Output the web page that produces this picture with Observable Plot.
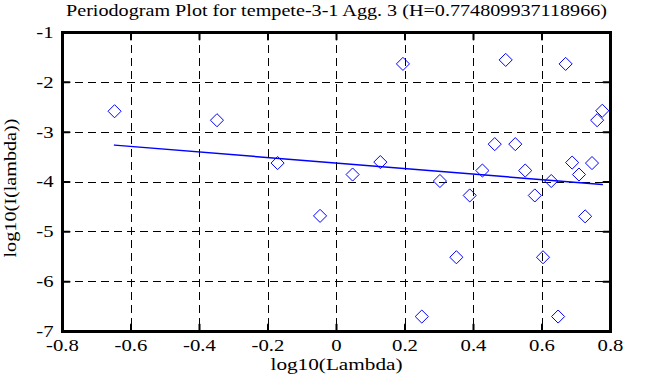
<!DOCTYPE html>
<html><head><meta charset="utf-8">
<script src="https://cdn.jsdelivr.net/npm/d3@7"></script>
<script src="https://cdn.jsdelivr.net/npm/@observablehq/plot@0.6"></script>
<style>html,body{margin:0;padding:0;background:#fff} svg{display:block}</style>
</head><body><div id="chart"></div>
<script>
const title = "Periodogram Plot for tempete-3-1 Agg. 3 (H=0.774809937118966)";
const xLabel = "log10(Lambda)";
const yLabel = "log10(I(lambda))";

// periodogram points: log10(lambda), log10(I(lambda))
const logLambda = [-0.648, -0.349, -0.172, -0.048, 0.047, 0.128, 0.194, 0.249, 0.302, 0.350, 0.389, 0.426, 0.462, 0.494,
                   0.522, 0.551, 0.579, 0.603, 0.627, 0.647, 0.669, 0.688, 0.708, 0.726, 0.746, 0.761, 0.776];
const logI      = [-2.58, -2.76, -3.62, -4.68, -3.85, -3.60, -1.63, -6.70, -3.98, -5.51, -4.27, -3.77, -3.24, -1.55,
                   -3.24, -3.77, -4.27, -5.51, -3.98, -6.70, -1.63, -3.61, -3.85, -4.69, -3.62, -2.76, -2.57];

// fitted regression line endpoints
const fitLogLambda = [-0.648, 0.776];
const fitLogI = [-3.26, -4.05];

const xTicks = [-0.8, -0.6, -0.4, -0.2, 0, 0.2, 0.4, 0.6, 0.8];
const xTickLabels = ["-0.8", "-0.6", "-0.4", "-0.2", "0", "0.2", "0.4", "0.6", "0.8"];
const yTicks = [-1, -2, -3, -4, -5, -6, -7];
const yTickLabels = ["-1", "-2", "-3", "-4", "-5", "-6", "-7"];

const points = logLambda.map((x, i) => ({x, y: logI[i]}));
const fit = fitLogLambda.map((x, i) => ({x, y: fitLogI[i]}));
const innerX = xTicks.slice(1, -1);
const innerY = yTicks.slice(1, -1);
const tickShape = {draw(ctx, l) { ctx.moveTo(0, 0); ctx.lineTo(0, -l); }};
const xDom = [xTicks[0], xTicks[xTicks.length - 1]];
const yDom = [yTicks[yTicks.length - 1], yTicks[0]];

const chart = Plot.plot({
  width: 648,
  height: 387,
  marginLeft: 62,
  marginRight: 38,
  marginTop: 32,
  marginBottom: 56,
  style: {fontFamily: "'Liberation Serif', 'Times New Roman', serif", fontSize: "17px", background: "#fff", color: "#000"},
  x: {domain: xDom, axis: null},
  y: {domain: yDom, axis: null},
  marks: [
    Plot.ruleX(innerX, {x: d => d, stroke: "#000", strokeWidth: 1, strokeDasharray: "8,5", shapeRendering: "crispEdges"}),
    Plot.ruleY(innerY, {y: d => d, stroke: "#000", strokeWidth: 1, strokeDasharray: "8,5", shapeRendering: "crispEdges"}),
    Plot.vector(innerX, {x: d => d, y: yDom[0], length: 7, rotate: 0, anchor: "start", shape: tickShape, stroke: "#000", strokeWidth: 2}),
    Plot.vector(innerX, {x: d => d, y: yDom[1], length: 7, rotate: 180, anchor: "start", shape: tickShape, stroke: "#000", strokeWidth: 2}),
    Plot.vector(innerY, {y: d => d, x: xDom[0], length: 7, rotate: 90, anchor: "start", shape: tickShape, stroke: "#000", strokeWidth: 2}),
    Plot.vector(innerY, {y: d => d, x: xDom[1], length: 7, rotate: -90, anchor: "start", shape: tickShape, stroke: "#000", strokeWidth: 2}),
    Plot.line(fit, {x: "x", y: "y", stroke: "#0000ff", strokeWidth: 1.5}),
    Plot.dot(points, {x: "x", y: "y", symbol: "diamond2", r: 5.9, stroke: "#0000ff", strokeWidth: 1, fill: "none"}),
    Plot.frame({stroke: "#000", strokeWidth: 3}),
    Plot.text(xTicks, {x: d => d, frameAnchor: "bottom", text: (d, i) => xTickLabels[i], lineAnchor: "top", dy: 7, fill: "#000"}),
    Plot.text(yTicks, {y: d => d, frameAnchor: "left", text: (d, i) => yTickLabels[i], textAnchor: "end", dx: -9, fill: "#000"}),
    Plot.text([xLabel], {frameAnchor: "bottom", lineAnchor: "top", dy: 26, fill: "#000"}),
    Plot.text([yLabel], {frameAnchor: "left", textAnchor: "middle", lineAnchor: "middle", rotate: -90, dx: -52, dy: 6, fill: "#000"}),
    Plot.text([title], {frameAnchor: "top", lineAnchor: "middle", dy: -22.4, fill: "#000"})
  ]
});
document.getElementById("chart").appendChild(chart);

// widen the glyphs to match the wider bitmap serif face of the original
const targetWidths = new Map([[title, 541], [xLabel, 132], [yLabel, 139]]);
d3.select(chart).selectAll("text").each(function() {
  const s = this.textContent;
  const w = this.getComputedTextLength();
  const target = targetWidths.has(s) ? targetWidths.get(s) : w * 1.22;
  this.setAttribute("textLength", target);
  this.setAttribute("lengthAdjust", "spacingAndGlyphs");
});
</script>
</body></html>
